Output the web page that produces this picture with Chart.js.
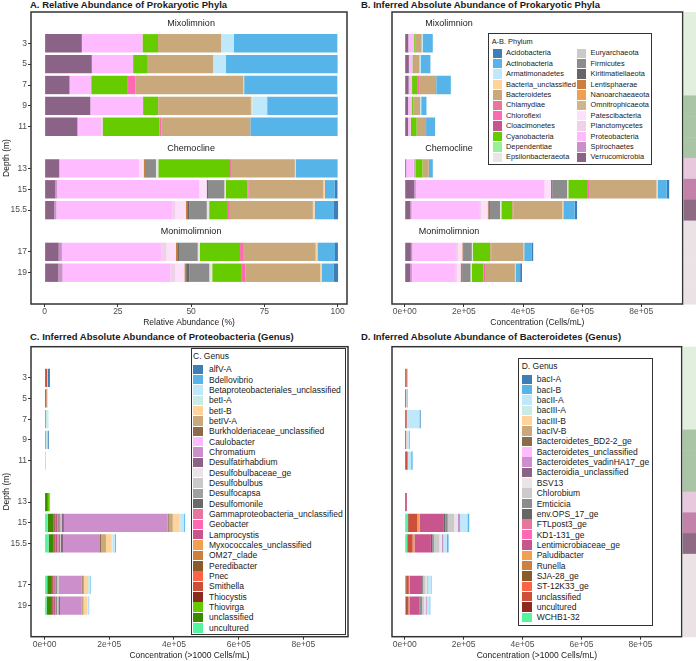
<!DOCTYPE html>
<html>
<head>
<meta charset="utf-8">
<script src="https://cdn.jsdelivr.net/npm/chart.js@4.4.1/dist/chart.umd.min.js"></script>
<style>
html,body{margin:0;padding:0;background:#fff;}
body{width:696px;height:661px;position:relative;overflow:hidden;font-family:"Liberation Sans",Arial,sans-serif;color:#1a1a1a;}
canvas{position:absolute;}
.ttl{position:absolute;font-weight:bold;font-size:9.5px;line-height:10px;white-space:nowrap;}
.lg{position:absolute;border:1.2px solid #333;background:#fff;box-sizing:border-box;}
.li{position:absolute;white-space:nowrap;line-height:10px;}
.sw{position:absolute;}
</style>
</head>
<body>
<div class="ttl" style="left:30px;top:0px">A. Relative Abundance of Prokaryotic Phyla</div>
<div class="ttl" style="left:361px;top:0px">B. Inferred Absolute Abundance of Prokaryotic Phyla</div>
<div class="ttl" style="left:30px;top:332px">C. Inferred Absolute Abundance of Proteobacteria (Genus)</div>
<div class="ttl" style="left:361px;top:332px">D. Inferred Absolute Abundance of Bacteroidetes (Genus)</div>
<canvas id="cA" width="349" height="328" style="left:0;top:0"></canvas>
<canvas id="cB" width="347" height="328" style="left:349px;top:0"></canvas>
<canvas id="cC" width="349" height="321" style="left:0;top:340px"></canvas>
<canvas id="cD" width="347" height="321" style="left:349px;top:340px"></canvas>
<script>
// ---------- categories ----------
const depthZones = ['Mixolimnion', 'Chemocline', 'Monimolimnion'];
const depthsByZone = [['3', '5', '7', '9', '11'], ['13', '15', '15.5'], ['17', '19']];

// ---------- Panel A/B: phyla ----------
const phyla = ['Acidobacteria','Actinobacteria','Armatimonadetes','Bacteria_unclassified','Bacteroidetes','Chlamydiae','Chloroflexi','Cloacimonetes','Cyanobacteria','Dependentiae','Epsilonbacteraeota','Euryarchaeota','Firmicutes','Kiritimatiellaeota','Lentisphaerae','Nanoarchaeaeota','Omnitrophicaeota','Patescibacteria','Planctomycetes','Proteobacteria','Spirochaetes','Verrucomicrobia'];
const phylaColors = ['#3f7db6','#56b4e9','#bfe9fb','#ffd39b','#c9a87c','#e8769c','#ff69b4','#c9558f','#66cc00','#98f098','#e9e5e7','#cbc9c9','#8c8c8c','#666666','#cd7f3e','#f0a050','#d2b48c','#ffe0fa','#efd1e9','#ffbbff','#cc8fcc','#8b6386'];

// A: relative abundance (%) by depth 3,5,7,9,11,13,15,15.5,17,19
const relAcidobacteria        = [0, 0, 0, 0, 0, 0, 0.9, 1.4, 1.0, 1.6];
const relActinobacteria       = [35.3, 38.1, 31.8, 24.1, 29.8, 14.3, 3.4, 6.6, 6.0, 3.9];
const relArmatimonadetes      = [4.1, 4.4, 0, 5.1, 0, 0, 0, 0, 0, 0];
const relBacteriaUncl         = [0.3, 0, 0.3, 0.45, 0, 0.3, 0.5, 0.6, 0.6, 0.6];
const relBacteroidetes        = [21.5, 22.3, 36.8, 31.4, 30.3, 21.5, 25.5, 28.3, 24.8, 25.5];
const relChlamydiae           = [0, 0, 0, 0, 0, 0, 0, 0, 0, 0];
const relChloroflexi          = [0, 0, 2.6, 0.2, 0.7, 0.6, 0.45, 0.7, 1.0, 1.25];
const relCloacimonetes        = [0, 0, 0, 0, 0, 0, 0, 0, 0, 0];
const relCyanobacteria        = [5.3, 5.0, 12.5, 5.2, 19.4, 24.5, 7.4, 6.4, 13.75, 10.1];
const relDependentiae         = [0, 0, 0, 0, 0, 0, 0, 0, 0, 0];
const relEpsilonbacteraeota   = [0, 0, 0, 0, 0, 0.8, 0.45, 0.8, 0.7, 1.0];
const relEuryarchaeota        = [0, 0, 0, 0, 0, 0, 0, 0, 0, 0];
const relFirmicutes           = [0, 0, 0, 0, 0, 3.75, 5.6, 5.9, 6.4, 6.8];
const relKiritimatiellaeota   = [0, 0, 0, 0, 0, 0, 0.45, 0.8, 0.6, 1.1];
const relLentisphaerae        = [0, 0, 0, 0, 0, 0.45, 0, 0.45, 0.45, 0.6];
const relNanoarchaeaeota      = [0, 0, 0, 0, 0, 0, 0, 0, 0, 0];
const relOmnitrophicaeota     = [0, 0, 0, 0, 0, 0, 0, 0, 0, 0];
const relPatescibacteria      = [0, 0, 0, 0, 0, 1.6, 2.5, 3.6, 3.2, 3.1];
const relPlanctomycetes       = [0, 0, 0, 0, 0.3, 0, 0, 0.9, 1.7, 1.7];
const relProteobacteria       = [20.7, 14.1, 7.4, 18.0, 8.3, 27.2, 48.6, 39.7, 34.0, 36.8];
const relSpirochaetes         = [0, 0, 0, 0, 0, 0, 0.6, 0.7, 1.1, 1.4];
const relVerrucomicrobia      = [12.7, 16.1, 8.5, 15.6, 11.2, 5.0, 3.6, 3.3, 4.8, 4.7];

// B: inferred absolute abundance (cells/mL)
const absAcidobacteria        = [0, 0, 0, 0, 0, 0, 8100, 8100, 4300, 6300];
const absActinobacteria       = [33500, 33100, 49600, 17700, 30700, 13600, 30400, 38400, 26000, 15400];
const absArmatimonadetes      = [3900, 3800, 0, 3750, 0, 0, 0, 0, 0, 0];
const absBacteriaUncl         = [300, 0, 500, 300, 0, 300, 4500, 3500, 2600, 2400];
const absBacteroidetes        = [20400, 19400, 57400, 23100, 31200, 20400, 228000, 164700, 107600, 101000];
const absChlamydiae           = [0, 0, 0, 0, 0, 0, 0, 0, 0, 0];
const absChloroflexi          = [0, 0, 4100, 150, 700, 600, 4000, 4100, 4300, 5000];
const absCloacimonetes        = [0, 0, 0, 0, 0, 0, 0, 0, 0, 0];
const absCyanobacteria        = [5000, 4350, 19500, 3800, 20000, 23300, 66200, 37200, 59700, 40000];
const absDependentiae         = [0, 0, 0, 0, 0, 0, 0, 0, 0, 0];
const absEpsilonbacteraeota   = [0, 0, 0, 0, 0, 800, 4000, 4700, 3000, 4000];
const absEuryarchaeota        = [0, 0, 0, 0, 0, 0, 0, 0, 0, 0];
const absFirmicutes           = [0, 0, 0, 0, 0, 3600, 50100, 34300, 27800, 26900];
const absKiritimatiellaeota   = [0, 0, 0, 0, 0, 0, 4000, 4700, 2600, 4400];
const absLentisphaerae        = [0, 0, 0, 0, 0, 400, 0, 2600, 2000, 2400];
const absNanoarchaeaeota      = [0, 0, 0, 0, 0, 0, 0, 0, 0, 0];
const absOmnitrophicaeota     = [0, 0, 0, 0, 0, 0, 0, 0, 0, 0];
const absPatescibacteria      = [0, 0, 0, 0, 0, 1500, 22400, 21000, 13900, 12300];
const absPlanctomycetes       = [0, 0, 0, 0, 300, 0, 0, 5200, 7400, 6700];
const absProteobacteria       = [19700, 12300, 11500, 13200, 8500, 25800, 435000, 231000, 147600, 145700];
const absSpirochaetes         = [0, 0, 0, 0, 0, 0, 5400, 4100, 4800, 5500];
const absVerrucomicrobia      = [12100, 14000, 13300, 11500, 11500, 4750, 32200, 19200, 20800, 18600];

// ---------- Panel C: Proteobacteria genera ----------
const proteoGenera = ['alfV-A','Bdellovibrio','Betaproteobacteriales_unclassified','betI-A','betI-B','betIV-A','Burkholderiaceae_unclassified','Caulobacter','Chromatium','Desulfatirhabdium','Desulfobulbaceae_ge','Desulfobulbus','Desulfocapsa','Desulfomonile','Gammaproteobacteria_unclassified','Geobacter','Lamprocystis','Myxococcales_unclassified','OM27_clade','Peredibacter','Pnec','Smithella','Thiocystis','Thiovirga','unclassified','uncultured'];
const proteoColors = ['#3f7db6','#56b4e9','#bfe9fb','#c9ebe8','#ffd39b','#c9a87c','#8b6b4a','#ffbbff','#cc8fcc','#8b6386','#e9e5e7','#cbc9c9','#a0a0a0','#6a6a6a','#e8769c','#ff69b4','#c9558f','#f0a050','#cd7f3e','#8b5a2b','#ff6347','#cd4f39','#8b2a1e','#66cc00','#3a8a00','#55f5a0'];
const pAlfVA          = [6000, 0, 0, 4000, 0, 0, 0, 0, 0, 0];
const pBdellovibrio   = [0, 0, 0, 0, 0, 0, 3100, 3000, 2000, 2000];
const pBetaprotUncl   = [1500, 2000, 4000, 0, 0, 0, 12400, 7200, 3000, 2000];
const pBetIA          = [0, 0, 4000, 5000, 0, 0, 3100, 3000, 3000, 2000];
const pBetIB          = [0, 0, 0, 0, 0, 0, 19600, 17500, 12400, 11000];
const pBetIVA         = [1500, 3000, 0, 0, 3000, 3000, 12400, 15400, 4000, 4000];
const pBurkhUncl      = [0, 0, 0, 0, 0, 0, 3100, 3000, 3000, 2000];
const pCaulobacter    = [0, 0, 0, 0, 0, 0, 0, 0, 0, 0];
const pChromatium     = [0, 0, 0, 0, 0, 0, 321000, 114000, 69000, 67000];
const pDesulfatirh    = [0, 0, 0, 0, 0, 0, 7200, 7200, 2000, 5000];
const pDesulfobulbGe  = [0, 0, 0, 0, 0, 0, 0, 0, 0, 0];
const pDesulfobulbus  = [0, 0, 0, 0, 0, 0, 3100, 3000, 6200, 5000];
const pDesulfocapsa   = [0, 0, 0, 0, 0, 0, 3100, 0, 0, 0];
const pDesulfomonile  = [0, 0, 0, 0, 0, 0, 4100, 4000, 4000, 3000];
const pGammaUncl      = [0, 0, 0, 0, 0, 0, 3100, 3000, 2000, 2000];
const pGeobacter      = [0, 0, 0, 0, 0, 0, 0, 0, 0, 0];
const pLamprocystis   = [0, 0, 0, 0, 0, 0, 5100, 6200, 4000, 5000];
const pMyxoUncl       = [0, 0, 0, 0, 0, 0, 0, 0, 0, 0];
const pOM27           = [0, 0, 0, 0, 0, 0, 0, 0, 0, 0];
const pPeredibacter   = [0, 0, 0, 0, 0, 0, 0, 0, 0, 0];
const pPnec           = [0, 0, 4000, 0, 0, 0, 0, 0, 0, 0];
const pSmithella      = [7500, 5000, 0, 0, 0, 0, 3100, 3000, 3000, 3000];
const pThiocystis     = [0, 0, 0, 0, 0, 0, 3100, 3100, 2000, 2000];
const pThiovirga      = [0, 0, 0, 4000, 0, 4000, 0, 0, 0, 0];
const pUnclassified   = [0, 0, 0, 0, 0, 10000, 17500, 15400, 14400, 16500];
const pUncultured     = [0, 0, 0, 0, 0, 0, 10300, 12400, 8200, 6200];

// ---------- Panel D: Bacteroidetes genera ----------
const bactGenera = ['bacI-A','bacI-B','bacII-A','bacIII-A','bacIII-B','bacIV-B','Bacteroidetes_BD2-2_ge','Bacteroidetes_unclassified','Bacteroidetes_vadinHA17_ge','Bacteroidia_unclassified','BSV13','Chlorobium','Emticicia','env.OPS_17_ge','FTLpost3_ge','KD1-131_ge','Lentimicrobiaceae_ge','Paludibacter','Runella','SJA-28_ge','ST-12K33_ge','unclassified','uncultured','WCHB1-32'];
const bactColors = ['#3f7db6','#56b4e9','#bfe9fb','#c9ebe8','#ffd39b','#c9a87c','#8b6b4a','#ffbbff','#cc8fcc','#8b6386','#e9e5e7','#cbc9c9','#8c8c8c','#666666','#e8769c','#ff69b4','#c9558f','#f0a050','#cd7f3e','#8b5a2b','#ff6347','#cd4f39','#8b2a1e','#55f5a0'];
const bBacIA          = [0, 0, 2000, 0, 0, 0, 0, 0, 0, 0];
const bBacIB          = [2000, 2000, 3000, 3000, 5000, 0, 6000, 6000, 2000, 3000];
const bBacIIA         = [2000, 3000, 43000, 6000, 12000, 0, 25000, 12000, 11000, 9000];
const bBacIIIA        = [0, 0, 0, 0, 0, 0, 0, 0, 0, 0];
const bBacIIIB        = [0, 0, 0, 0, 0, 0, 0, 0, 0, 0];
const bBacIVB         = [0, 0, 0, 0, 0, 0, 0, 0, 0, 0];
const bBD22           = [0, 0, 0, 0, 0, 0, 0, 0, 0, 0];
const bBactUncl       = [0, 0, 0, 0, 0, 0, 0, 0, 0, 0];
const bVadinHA17      = [0, 0, 0, 0, 0, 0, 7000, 5000, 2000, 4000];
const bBacteroidiaUncl= [0, 0, 0, 0, 0, 0, 0, 0, 0, 0];
const bBSV13          = [0, 0, 0, 3000, 0, 0, 13000, 8000, 5000, 5000];
const bChlorobium     = [0, 0, 0, 0, 0, 0, 22000, 19000, 8000, 7000];
const bEmticicia      = [0, 0, 0, 0, 0, 0, 8000, 5000, 4000, 5000];
const bEnvOPS17       = [0, 0, 0, 0, 0, 0, 7000, 5000, 3000, 3000];
const bFTLpost3       = [0, 0, 0, 0, 0, 0, 0, 0, 0, 0];
const bKD1131         = [0, 0, 0, 0, 0, 0, 0, 0, 0, 0];
const bLentimicrob    = [0, 0, 0, 0, 0, 3000, 80000, 56000, 39000, 33000];
const bPaludibacter   = [0, 0, 0, 0, 0, 0, 8000, 6000, 3000, 5000];
const bRunella        = [0, 0, 0, 0, 0, 0, 0, 0, 0, 0];
const bSJA28          = [0, 0, 0, 0, 0, 0, 0, 0, 0, 0];
const bST12K33        = [0, 0, 0, 0, 0, 0, 0, 0, 0, 0];
const bUnclassified   = [7000, 5000, 7000, 5000, 10000, 5000, 30000, 16000, 8000, 6000];
const bUncultured     = [0, 0, 0, 0, 0, 0, 3000, 2000, 3000, 4000];
const bWCHB132        = [0, 0, 0, 0, 0, 0, 10000, 9000, 3000, 3000];

// ---------- tick labels ----------
const pctTicks = [0, 25, 50, 75, 100];
const pctTickLabels = ['0', '25', '50', '75', '100'];
const concTicks = [0, 200000, 400000, 600000, 800000];
const concTickLabels = ['0e+00', '2e+05', '4e+05', '6e+05', '8e+05'];

// ---------- series lists ----------
const relSeries = [relAcidobacteria, relActinobacteria, relArmatimonadetes, relBacteriaUncl, relBacteroidetes, relChlamydiae, relChloroflexi, relCloacimonetes, relCyanobacteria, relDependentiae, relEpsilonbacteraeota, relEuryarchaeota, relFirmicutes, relKiritimatiellaeota, relLentisphaerae, relNanoarchaeaeota, relOmnitrophicaeota, relPatescibacteria, relPlanctomycetes, relProteobacteria, relSpirochaetes, relVerrucomicrobia];
const absSeries = [absAcidobacteria, absActinobacteria, absArmatimonadetes, absBacteriaUncl, absBacteroidetes, absChlamydiae, absChloroflexi, absCloacimonetes, absCyanobacteria, absDependentiae, absEpsilonbacteraeota, absEuryarchaeota, absFirmicutes, absKiritimatiellaeota, absLentisphaerae, absNanoarchaeaeota, absOmnitrophicaeota, absPatescibacteria, absPlanctomycetes, absProteobacteria, absSpirochaetes, absVerrucomicrobia];
const proteoSeries = [pAlfVA, pBdellovibrio, pBetaprotUncl, pBetIA, pBetIB, pBetIVA, pBurkhUncl, pCaulobacter, pChromatium, pDesulfatirh, pDesulfobulbGe, pDesulfobulbus, pDesulfocapsa, pDesulfomonile, pGammaUncl, pGeobacter, pLamprocystis, pMyxoUncl, pOM27, pPeredibacter, pPnec, pSmithella, pThiocystis, pThiovirga, pUnclassified, pUncultured];
const bactSeries = [bBacIA, bBacIB, bBacIIA, bBacIIIA, bBacIIIB, bBacIVB, bBD22, bBactUncl, bVadinHA17, bBacteroidiaUncl, bBSV13, bChlorobium, bEmticicia, bEnvOPS17, bFTLpost3, bKD1131, bLentimicrob, bPaludibacter, bRunella, bSJA28, bST12K33, bUnclassified, bUncultured, bWCHB132];

// ---------- slot table (zone header rows + depth rows + trailing space) ----------
const slotLabels = [], zoneSlotIdx = [], depthSlotIdx = [];
depthZones.forEach((z, zi) => {
  zoneSlotIdx.push(slotLabels.length); slotLabels.push('');
  depthsByZone[zi].forEach(d => { depthSlotIdx.push(slotLabels.length); slotLabels.push(d); });
});
slotLabels.push('');
function toSlots(arr) {
  const out = new Array(slotLabels.length).fill(null);
  depthSlotIdx.forEach((s, i) => { out[s] = arr[i]; });
  return out;
}

const FONT = "'Liberation Sans', Arial, sans-serif";

const framePlugin = {
  id: 'frame',
  afterDraw(chart) {
    const {ctx, chartArea: a} = chart;
    ctx.save(); ctx.strokeStyle = '#333'; ctx.lineWidth = 1.5;
    ctx.strokeRect(a.left, a.top, a.right - a.left, a.bottom - a.top);
    ctx.restore();
  }
};
const zonePlugin = {
  id: 'zones',
  afterDatasetsDraw(chart, args, opts) {
    if (opts.x === undefined || opts.x === null) return;
    const {ctx, scales: {x, y}} = chart;
    ctx.save(); ctx.fillStyle = '#1a1a1a'; ctx.font = "9px " + FONT;
    ctx.textAlign = 'center'; ctx.textBaseline = 'middle';
    zoneSlotIdx.forEach((s, i) => ctx.fillText(depthZones[i], x.getPixelForValue(opts.x), y.getPixelForValue(s) + 1));
    ctx.restore();
  }
};
const stripPalette = ['#e2efdf','#e2efdf','#e2efdf','#e2efdf','#a9c5a6','#a9c5a6','#a9c5a6','#e8c8dc','#c382aa','#8e6a83','#ebe2e6','#ebe2e6','#ebe2e6','#ebe2e6'];
const stripPlugin = {
  id: 'strip',
  afterDraw(chart, args, opts) {
    if (!opts.on) return;
    const {ctx, chartArea: a, scales: {y}} = chart;
    const half = (y.getPixelForValue(1) - y.getPixelForValue(0)) / 2;
    ctx.save();
    slotLabels.forEach((l, i) => {
      const c = y.getPixelForValue(i);
      ctx.fillStyle = stripPalette[i];
      ctx.fillRect(a.right + 1, c - half, chart.width - a.right - 1, half * 2 + 0.5);
    });
    ctx.restore();
  }
};

function panel(id, names, colors, series, o) {
  const datasets = names.map((n, i) => ({
    label: n, data: toSlots(series[i]), backgroundColor: colors[i],
    borderWidth: 0, barPercentage: 1, categoryPercentage: 0.88
  })).reverse();
  return new Chart(document.getElementById(id), {
    type: 'bar',
    data: { labels: slotLabels, datasets },
    options: {
      indexAxis: 'y', responsive: false, animation: false,
      layout: { padding: o.padding },
      plugins: { legend: { display: false }, tooltip: { enabled: false }, zones: { x: o.zoneX }, strip: { on: !!o.strip } },
      scales: {
        x: {
          type: 'linear', stacked: true, min: o.xMin, max: o.xMax,
          afterBuildTicks: s => { s.ticks = o.xTicks.map(v => ({ value: v })); },
          afterFit: s => { s.height = o.xHeight; },
          grid: { display: true, drawOnChartArea: false, drawTicks: true, tickLength: 3, color: '#333' },
          border: { display: false },
          ticks: { padding: 0, color: '#4d4d4d', font: { family: FONT, size: 8.5 }, maxRotation: 0, autoSkip: false,
                   callback: (v, i) => o.xTickLabels[i] },
          title: { display: true, text: o.xTitle, color: '#1a1a1a', font: { family: FONT, size: 8.5 }, padding: 0 }
        },
        y: {
          type: 'category', stacked: true, display: o.showY,
          afterFit: s => { s.width = 31; },
          grid: { display: true, offset: false, drawOnChartArea: false, drawTicks: true, tickLength: 3,
                  color: '#333', tickColor: c => (slotLabels[c.index] ? '#333' : 'rgba(0,0,0,0)') },
          border: { display: false },
          ticks: { autoSkip: false, padding: 1, color: '#4d4d4d', font: { family: FONT, size: 8.5 } },
          title: { display: true, text: 'Depth (m)', color: '#1a1a1a', font: { family: FONT, size: 8.5 }, padding: { top: 1.5, bottom: 0 } }
        }
      }
    },
    plugins: [framePlugin, zonePlugin, stripPlugin]
  });
}

panel('cA', phyla, phylaColors, relSeries, {
  padding: { top: 12, left: 0, right: 2, bottom: 0 }, xMin: -4.65, xMax: 103.2,
  xTicks: pctTicks, xTickLabels: pctTickLabels, xTitle: 'Relative Abundance (%)', xHeight: 24, showY: true, zoneX: 50
});
panel('cB', phyla, phylaColors, absSeries, {
  padding: { top: 12, left: 12, right: 13.3, bottom: 0 }, xMin: -43000, xMax: 940000,
  xTicks: concTicks, xTickLabels: concTickLabels, xTitle: 'Concentration (Cells/mL)', xHeight: 24, showY: false, zoneX: 150000, strip: true
});
panel('cC', proteoGenera, proteoColors, proteoSeries, {
  padding: { top: 6.7, left: 0, right: 1, bottom: 0 }, xMin: -42000, xMax: 938000,
  xTicks: concTicks, xTickLabels: concTickLabels, xTitle: 'Concentration (>1000 Cells/mL)', xHeight: 24.3, showY: true
});
panel('cD', bactGenera, bactColors, bactSeries, {
  padding: { top: 6.7, left: 12, right: 14.3, bottom: 0 }, xMin: -43000, xMax: 940000,
  xTicks: concTicks, xTickLabels: concTickLabels, xTitle: 'Concentration (>1000 Cells/mL)', xHeight: 24.3, showY: false, strip: true
});

// ---------- HTML legends ----------
function legend(title, names, colors, L) {
  const box = document.createElement('div');
  box.className = 'lg';
  Object.assign(box.style, { left: L.left + 'px', top: L.top + 'px', width: L.width + 'px', height: L.height + 'px' });
  document.body.appendChild(box);
  const t = document.createElement('div');
  t.className = 'li'; t.textContent = title;
  Object.assign(t.style, { left: L.titleX + 'px', top: (L.titleY - 5) + 'px', fontSize: L.fs + 'px' });
  document.body.appendChild(t);
  names.forEach((n, i) => {
    const col = Math.floor(i / L.perCol), row = i % L.perCol;
    const cy = L.y0 + row * L.dy;
    const sw = document.createElement('div');
    sw.className = 'sw';
    Object.assign(sw.style, { left: (L.swX + col * L.colDx) + 'px', top: (cy - L.swH / 2) + 'px', width: L.swW + 'px', height: L.swH + 'px', background: colors[i] });
    document.body.appendChild(sw);
    const tx = document.createElement('div');
    tx.className = 'li'; tx.textContent = n;
    Object.assign(tx.style, { left: (L.txtX + col * L.colDx) + 'px', top: (cy - 5) + 'px', fontSize: L.fs + 'px' });
    document.body.appendChild(tx);
  });
}
legend('A-B. Phylum', phyla, phylaColors, { left: 488.3, top: 33.3, width: 163.4, height: 131.7, titleX: 491.7, titleY: 41.7,
  swX: 492.7, txtX: 506, colDx: 84.6, perCol: 11, y0: 53.3, dy: 10.4, swW: 9, swH: 9.5, fs: 7.4 });
legend('C. Genus', proteoGenera, proteoColors, { left: 190.7, top: 347.7, width: 155, height: 287.3, titleX: 193, titleY: 356,
  swX: 193.3, txtX: 209, colDx: 0, perCol: 26, y0: 369.3, dy: 10.34, swW: 10, swH: 9.5, fs: 8.5 });
legend('D. Genus', bactGenera, bactColors, { left: 518, top: 357.7, width: 135.3, height: 268, titleX: 521.7, titleY: 366,
  swX: 521.7, txtX: 536.7, colDx: 0, perCol: 24, y0: 379.3, dy: 10.35, swW: 10, swH: 9.5, fs: 8.5 });
</script>
</body>
</html>
